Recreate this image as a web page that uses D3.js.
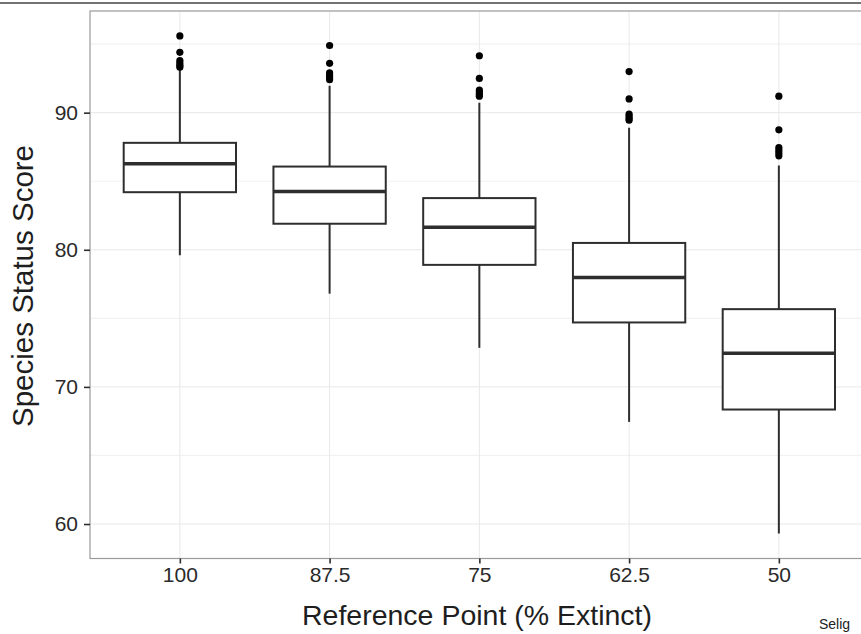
<!DOCTYPE html>
<html>
<head>
<meta charset="utf-8">
<script src="https://cdn.jsdelivr.net/npm/d3@7"></script>
<style>
  html, body { margin: 0; padding: 0; background: #fff; }
  svg { display: block; font-family: "Liberation Sans", Arial, Helvetica, sans-serif; }
</style>
</head>
<body>
<svg id="chart" width="861" height="634"></svg>
<script>
// ---- data ----
const categories = ["100", "87.5", "75", "62.5", "50"];
const whiskerLow  = [79.6, 76.8, 72.85, 67.45, 59.3];
const q1          = [84.2, 81.9, 78.9, 74.7, 68.35];
const median      = [86.27, 84.25, 81.64, 77.98, 72.45];
const q3          = [87.8, 86.07, 83.77, 80.5, 75.67];
const whiskerHigh = [93.18, 91.97, 90.73, 88.9, 86.15];
const outliers = [
  [95.6, 94.4, 93.8, 93.62, 93.45, 93.32],
  [94.9, 93.6, 92.9, 92.72, 92.55, 92.4],
  [94.15, 92.5, 91.65, 91.5, 91.35, 91.2],
  [93.0, 91.0, 89.9, 89.75, 89.6, 89.45],
  [91.2, 88.75, 87.45, 87.25, 87.05, 86.85]
];
const yTicks = [60, 70, 80, 90];
const yMinorTicks = [65, 75, 85, 95];
const xTitle = "Reference Point (% Extinct)";
const yTitle = "Species Status Score";
const caption = "Selig";

// ---- layout ----
const svg = d3.select("#chart");
const panel = { left: 90, top: 11, right: 868.7, bottom: 558.5 };

const allVals = whiskerLow.concat(whiskerHigh, outliers.flat());
const lo = d3.min(allVals), hi = d3.max(allVals), pad = (hi - lo) * 0.05;

const x = d3.scalePoint().domain(categories).range([panel.left, panel.right]).padding(0.6);
const y = d3.scaleLinear().domain([lo - pad, hi + pad]).range([panel.bottom, panel.top]);
const boxW = x.step() * 0.75;
const ink = "#2e2e2e";

svg.append("rect").attr("width", 861).attr("height", 634).attr("fill", "#fff");

// top dark border line of the figure crop
svg.append("line").attr("x1", 0).attr("x2", 861).attr("y1", 3).attr("y2", 3)
  .attr("stroke", "#444").attr("stroke-width", 1.5);

svg.append("clipPath").attr("id", "pclip").append("rect")
  .attr("x", panel.left).attr("y", panel.top)
  .attr("width", 900 - panel.left).attr("height", panel.bottom - panel.top);

const g = svg.append("g").attr("clip-path", "url(#pclip)");

// minor grid
g.selectAll(".minor").data(yMinorTicks).join("line")
  .attr("x1", panel.left).attr("x2", 900)
  .attr("y1", d => y(d)).attr("y2", d => y(d))
  .attr("stroke", "#f2f2f2").attr("stroke-width", 1.2);
// major grid
g.selectAll(".majorY").data(yTicks).join("line")
  .attr("x1", panel.left).attr("x2", 900)
  .attr("y1", d => y(d)).attr("y2", d => y(d))
  .attr("stroke", "#e8e8e8").attr("stroke-width", 1);
g.selectAll(".majorX").data(categories).join("line")
  .attr("x1", d => x(d)).attr("x2", d => x(d))
  .attr("y1", panel.top).attr("y2", panel.bottom)
  .attr("stroke", "#e8e8e8").attr("stroke-width", 1);

// boxes
const boxes = categories.map((c, i) => ({ c, i }));
const bg = g.selectAll(".box").data(boxes).join("g");
bg.append("line")
  .attr("x1", d => x(d.c)).attr("x2", d => x(d.c))
  .attr("y1", d => y(whiskerHigh[d.i])).attr("y2", d => y(q3[d.i]))
  .attr("stroke", ink).attr("stroke-width", 2);
bg.append("line")
  .attr("x1", d => x(d.c)).attr("x2", d => x(d.c))
  .attr("y1", d => y(q1[d.i])).attr("y2", d => y(whiskerLow[d.i]))
  .attr("stroke", ink).attr("stroke-width", 2);
bg.append("rect")
  .attr("x", d => x(d.c) - boxW / 2).attr("width", boxW)
  .attr("y", d => y(q3[d.i])).attr("height", d => y(q1[d.i]) - y(q3[d.i]))
  .attr("fill", "#fff").attr("stroke", ink).attr("stroke-width", 2);
bg.append("line")
  .attr("x1", d => x(d.c) - boxW / 2).attr("x2", d => x(d.c) + boxW / 2)
  .attr("y1", d => y(median[d.i])).attr("y2", d => y(median[d.i]))
  .attr("stroke", ink).attr("stroke-width", 3.6);
bg.selectAll("circle").data(d => outliers[d.i].map(v => ({ c: d.c, v }))).join("circle")
  .attr("cx", d => x(d.c)).attr("cy", d => y(d.v)).attr("r", 3.6).attr("fill", "#000");

// panel border (right side lies outside the picture)
svg.append("rect")
  .attr("x", panel.left).attr("y", panel.top)
  .attr("width", 900 - panel.left).attr("height", panel.bottom - panel.top)
  .attr("fill", "none").attr("stroke", "#9a9a9a").attr("stroke-width", 1.2);

// y axis
const yAxis = svg.append("g").attr("transform", `translate(${panel.left},0)`)
  .call(d3.axisLeft(y).tickValues(yTicks).tickSize(6).tickPadding(6).tickSizeOuter(0));
yAxis.select(".domain").remove();
yAxis.selectAll(".tick line").attr("stroke", ink).attr("stroke-width", 1.6);
yAxis.selectAll(".tick text").attr("fill", "#2a2a2a").attr("font-size", "21px")
  .attr("font-family", "'Liberation Sans', Arial, sans-serif");

// x axis
const xAxis = svg.append("g").attr("transform", `translate(0,${panel.bottom})`)
  .call(d3.axisBottom(x).tickSize(5).tickPadding(4).tickSizeOuter(0));
xAxis.select(".domain").remove();
xAxis.selectAll(".tick line").attr("stroke", ink).attr("stroke-width", 1.6);
xAxis.selectAll(".tick text").attr("fill", "#2a2a2a").attr("font-size", "21px")
  .attr("font-family", "'Liberation Sans', Arial, sans-serif");

// titles
svg.append("text").attr("x", 477).attr("y", 625)
  .attr("text-anchor", "middle").attr("font-size", "28.5px").attr("fill", "#1e1e1e")
  .text(xTitle);
svg.append("text").attr("transform", "translate(33,286) rotate(-90)")
  .attr("text-anchor", "middle").attr("font-size", "29.5px").attr("fill", "#1e1e1e")
  .text(yTitle);
svg.append("text").attr("x", 819).attr("y", 629)
  .attr("font-size", "14px").attr("fill", "#222").text(caption);
</script>
</body>
</html>
